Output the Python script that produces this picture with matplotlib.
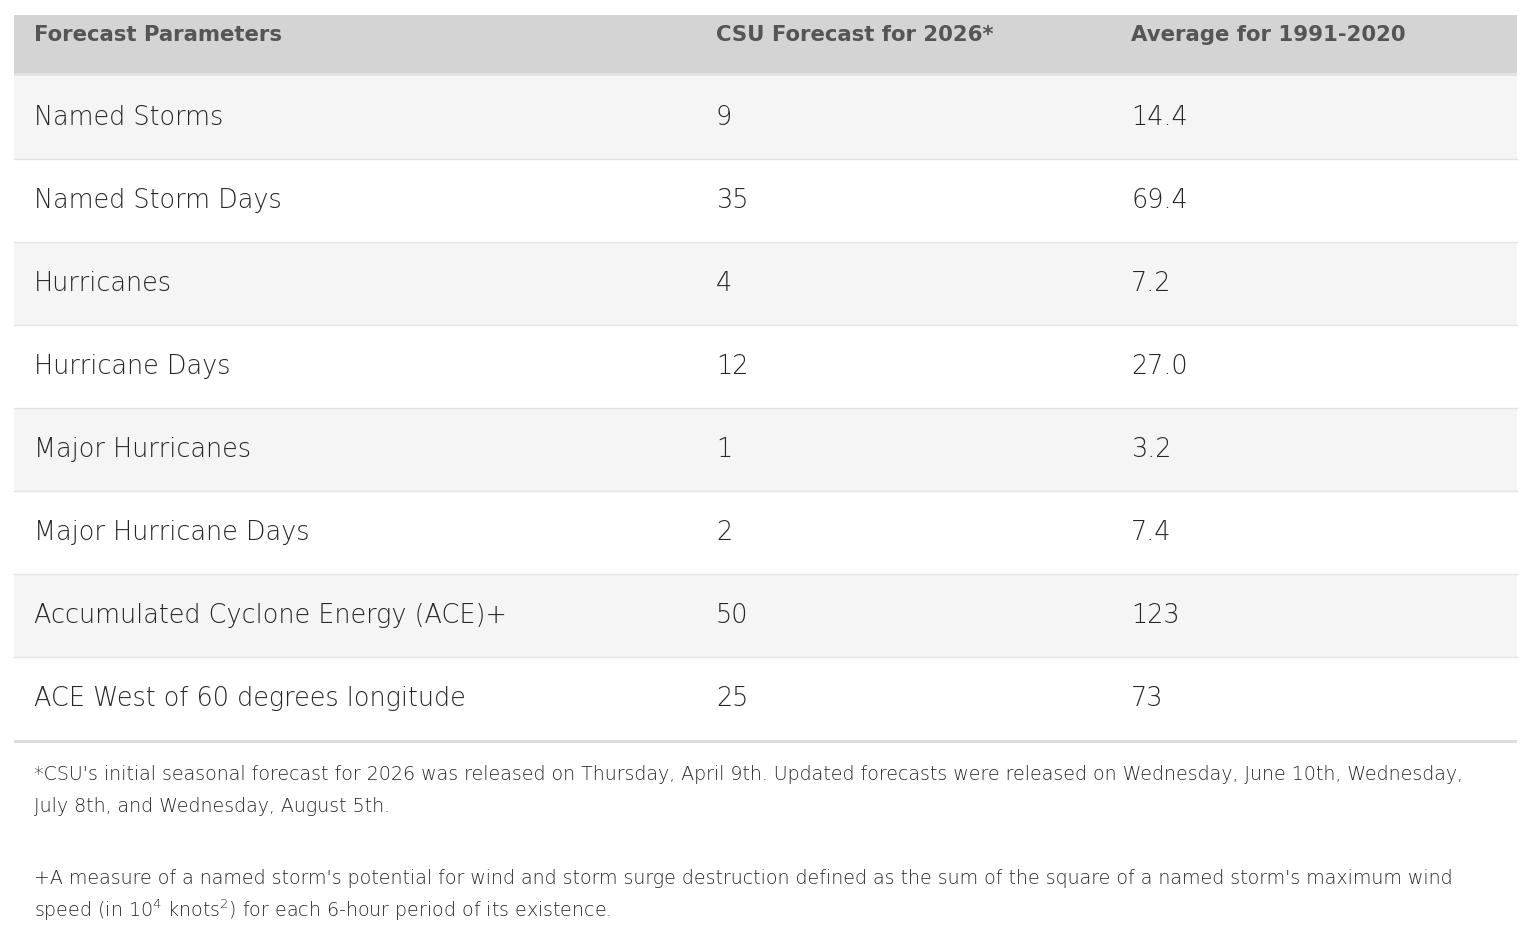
import matplotlib.pyplot as plt
from matplotlib.patches import Rectangle

# table contents
headers = ['Forecast Parameters', 'CSU Forecast for 2026*', 'Average for 1991-2020']
parameters = ['Named Storms', 'Named Storm Days', 'Hurricanes', 'Hurricane Days',
              'Major Hurricanes', 'Major Hurricane Days',
              'Accumulated Cyclone Energy (ACE)+', 'ACE West of 60 degrees longitude']
csu_2026 = ['9', '35', '4', '12', '1', '2', '50', '25']
avg_1991_2020 = ['14.4', '69.4', '7.2', '27.0', '3.2', '7.4', '123', '73']
footnotes = [
    ["*CSU's initial seasonal forecast for 2026 was released on Thursday, April 9th. "
     "Updated forecasts were released on Wednesday, June 10th, Wednesday,",
     "July 8th, and Wednesday, August 5th."],
    ["+A measure of a named storm's potential for wind and storm surge destruction "
     "defined as the sum of the square of a named storm's maximum wind",
     r"speed (in 10$^{\mathregular{4}}$ knots$^{\mathregular{2}}$) for each 6-hour period of its existence."],
]

W, H = 1522, 942
FONT = 'DejaVu Sans'
plt.rcParams['font.family'] = [FONT]
plt.rcParams['mathtext.fontset'] = 'custom'
plt.rcParams['mathtext.rm'] = FONT

# layout (pixels)
left, right = 14, 1517
col_x = [34, 716, 1131]
head_top, head_h = 15, 58
row_top, row_h = 76, 83


def draw_table():
    fig = plt.figure(figsize=(W / 100, H / 100), dpi=100)
    ax = fig.add_axes([0, 0, 1, 1])
    ax.set_xlim(0, W)
    ax.set_ylim(H, 0)
    ax.axis('off')

    # header band
    ax.add_patch(Rectangle((left, head_top), right - left, head_h, color='#d4d4d4', lw=0))
    ax.add_patch(Rectangle((left, head_top + head_h), right - left, row_top - head_top - head_h,
                           color='#e2e2e2', lw=0))
    for x, h in zip(col_x, headers):
        ax.text(x, head_top + 20, h, fontsize=15.3, fontweight='bold', color='#555555',
                va='center', ha='left')

    # rows
    for i, (p, c, a) in enumerate(zip(parameters, csu_2026, avg_1991_2020)):
        y0 = row_top + i * row_h
        bg = '#f5f5f5' if i % 2 == 0 else '#ffffff'
        ax.add_patch(Rectangle((left, y0), right - left, row_h, color=bg, lw=0))
        if i < len(parameters) - 1:
            ax.plot([left, right], [y0 + row_h, y0 + row_h], color='#e4e4e4', lw=1)
        yc = y0 + row_h / 2
        for x, t in zip(col_x, (p, c, a)):
            ax.text(x, yc, t, fontsize=18.4, fontweight='light', color='#262626',
                    va='center', ha='left')

    bottom = row_top + len(parameters) * row_h
    ax.add_patch(Rectangle((left, bottom), right - left, 3, color='#dddddd', lw=0))

    # footnotes
    y = bottom + 35
    for block in footnotes:
        for line in block:
            ax.text(col_x[0], y, line, fontsize=13.7, fontweight='light', color='#262626',
                    va='center', ha='left')
            y += 32
        y += 39

    fig.savefig('out.png', dpi=100, facecolor='white')


if __name__ == '__main__':
    draw_table()
